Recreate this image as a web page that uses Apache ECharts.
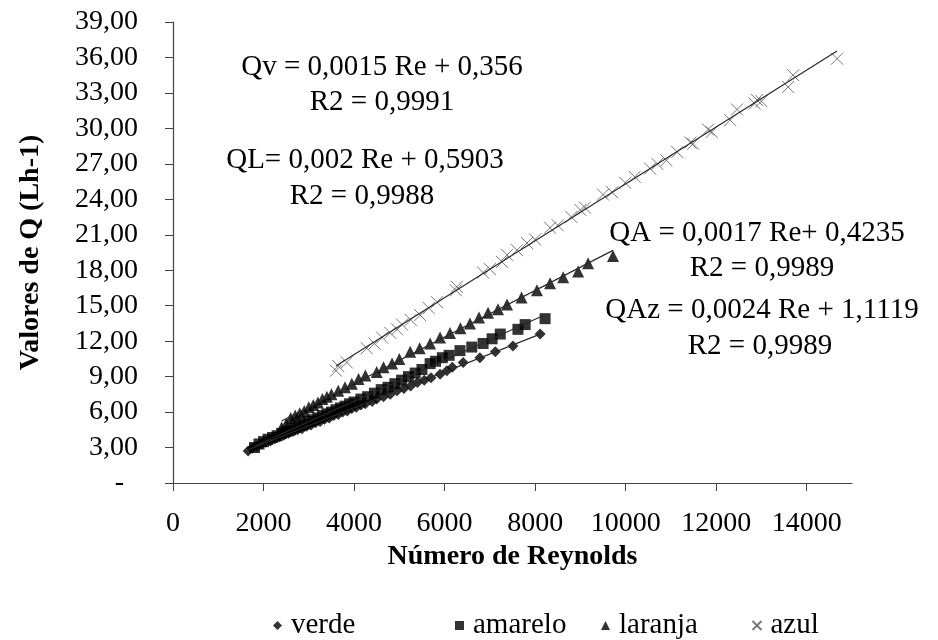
<!DOCTYPE html>
<html>
<head>
<meta charset="utf-8">
<script src="https://cdn.jsdelivr.net/npm/echarts@6/dist/echarts.min.js"></script>
<style>
  html, body { margin: 0; padding: 0; background: #fff; }
  #chart { width: 938px; height: 640px; }
</style>
</head>
<body>
<div id="chart"></div>
<script>
// valores: [Re, Q]
var verde = [
  [1660, 2.7], [1750, 2.95], [1850, 3.1], [1950, 3.3], [2050, 3.45], [2150, 3.55],
  [2250, 3.75], [2350, 3.9], [2450, 4.05], [2550, 4.2], [2650, 4.35], [2750, 4.5],
  [2850, 4.6], [2950, 4.8], [3050, 4.9], [3150, 5.1], [3250, 5.2], [3350, 5.4],
  [3450, 5.5], [3550, 5.7], [3650, 5.8], [3750, 6.0], [3850, 6.1], [3950, 6.3],
  [4050, 6.4], [4150, 6.6], [4250, 6.7], [4400, 6.9], [4500, 7.1], [4650, 7.3],
  [4800, 7.5], [4950, 7.8], [5100, 8.0], [5250, 8.2], [5400, 8.5], [5550, 8.7],
  [5700, 8.9], [5900, 9.2], [6050, 9.5], [6170, 9.8], [6410, 10.2], [6780, 10.6],
  [7120, 11.1], [7510, 11.6], [8110, 12.6]
];
var amarelo = [
  [1800, 3.0], [1900, 3.3], [2000, 3.5], [2100, 3.7], [2200, 3.85], [2300, 4.0],
  [2400, 4.2], [2500, 4.35], [2600, 4.5], [2700, 4.7], [2800, 4.85], [2900, 5.0],
  [3000, 5.2], [3100, 5.35], [3200, 5.5], [3300, 5.7], [3400, 5.85], [3500, 6.0],
  [3600, 6.2], [3700, 6.35], [3800, 6.5], [3900, 6.7], [4000, 6.85], [4150, 7.1],
  [4300, 7.3], [4450, 7.6], [4600, 7.9], [4750, 8.1], [4900, 8.4], [5050, 8.7],
  [5200, 9.0], [5350, 9.3], [5500, 9.6], [5680, 10.1], [5800, 10.3], [5950, 10.6],
  [6100, 10.8], [6340, 11.2], [6600, 11.5], [6850, 11.8], [7050, 12.2], [7230, 12.6],
  [7620, 13.0], [7780, 13.4], [8220, 13.9]
];
var laranja = [
  [2400, 4.7], [2500, 5.0], [2600, 5.5], [2700, 5.7], [2800, 5.9], [2900, 6.1],
  [3000, 6.4], [3100, 6.6], [3200, 6.8], [3300, 7.1], [3400, 7.3], [3500, 7.5],
  [3650, 7.8], [3800, 8.1], [3950, 8.4], [4100, 8.8], [4250, 9.1], [4500, 9.4],
  [4650, 9.8], [4840, 10.1], [5000, 10.5], [5240, 11.1], [5450, 11.4], [5680, 11.8],
  [5900, 12.3], [6120, 12.7], [6350, 13.1], [6560, 13.5], [6760, 14.0], [6960, 14.4],
  [7180, 14.7], [7380, 15.1], [7700, 15.7], [8040, 16.3], [8330, 16.9], [8620, 17.4],
  [8950, 17.9], [9170, 18.6], [9720, 19.2]
];
var azul = [
  [3600, 9.5], [3650, 9.9], [3840, 10.2], [4280, 11.4], [4450, 11.8], [4620, 12.3],
  [4800, 12.7], [4950, 13.0], [5060, 13.4], [5250, 13.8], [5460, 14.2], [5650, 14.8],
  [5830, 15.3], [6250, 16.3], [6270, 16.6], [6850, 17.8], [7000, 18.1], [7270, 18.7],
  [7380, 19.3], [7600, 19.7], [7820, 20.3], [8000, 20.6], [8330, 21.6], [8500, 21.8],
  [8800, 22.5], [9000, 23.1], [9100, 23.3], [9500, 24.4], [9700, 24.6], [9990, 25.4],
  [10200, 25.9], [10540, 26.6], [10700, 27.0], [10900, 27.3], [11140, 28.0], [11430, 28.8],
  [11490, 28.7], [11820, 29.9], [11900, 29.7], [12310, 30.7], [12460, 31.6], [12850, 32.1],
  [12900, 32.4], [13000, 32.3], [13590, 33.5], [13700, 34.5], [14670, 35.9]
];

var xTicks = [0, 2000, 4000, 6000, 8000, 10000, 12000, 14000];

var equacoes = [
  'Qv = 0,0015 Re + 0,356', 'R2 = 0,9991',
  'QL= 0,002 Re + 0,5903', 'R2 = 0,9988',
  'QA = 0,0017 Re+ 0,4235', 'R2 = 0,9989',
  'QAz = 0,0024 Re + 1,1119', 'R2 = 0,9989'
];

var FONT = '"Liberation Serif", "Times New Roman", serif';

// linha de tendencia por minimos quadrados, do menor ao maior Re
function tendencia(pts) {
  var n = pts.length, sx = 0, sy = 0, sxx = 0, sxy = 0;
  var xmin = Infinity, xmax = -Infinity;
  pts.forEach(function (p) {
    sx += p[0]; sy += p[1]; sxx += p[0] * p[0]; sxy += p[0] * p[1];
    if (p[0] < xmin) xmin = p[0];
    if (p[0] > xmax) xmax = p[0];
  });
  var b = (n * sxy - sx * sy) / (n * sxx - sx * sx);
  var a = (sy - b * sx) / n;
  return [[xmin, a + b * xmin], [xmax, a + b * xmax]];
}

var diamond = 'path://M5,0L10,5L5,10L0,5Z';
var cross = 'path://M0,0L10,10M10,0L0,10';

function trend(pts) {
  return {
    type: 'line', data: tendencia(pts), symbol: 'none', silent: true, z: 5,
    lineStyle: { color: '#2a2a2a', width: 1.2 }
  };
}

function legenda(nome, left) {
  return {
    data: [nome], left: left, top: 606, itemWidth: 9, itemHeight: 9, itemGap: 0,
    textStyle: { fontFamily: FONT, fontSize: 29, color: '#000', padding: [0, 0, 0, 4] },
    selectedMode: false
  };
}

var annotPos = [
  [382, 67], [382, 102], [365, 160], [362, 196],
  [757, 233], [762, 268], [762, 310], [760, 346]
];

var chart = echarts.init(document.getElementById('chart'));

chart.setOption({
  backgroundColor: '#fff',
  animation: false,
  textStyle: { fontFamily: FONT },
  grid: { left: 173, right: 86, top: 22, bottom: 157 },
  legend: [
    legenda('verde', 268),
    legenda('amarelo', 450),
    legenda('laranja', 596),
    legenda('azul', 745)
  ],
  xAxis: {
    type: 'value', min: 0, max: 15000, interval: 2000,
    name: 'Número de Reynolds', nameLocation: 'middle', nameGap: 51,
    nameTextStyle: { fontFamily: FONT, fontSize: 28, fontWeight: 'bold', color: '#000' },
    splitLine: { show: false },
    axisLine: { lineStyle: { color: '#444', width: 1.2 } },
    axisTick: { length: 8, customValues: xTicks, lineStyle: { color: '#444' } },
    axisLabel: {
      customValues: xTicks, margin: 27, fontSize: 28, color: '#000', fontFamily: FONT,
      formatter: function (v) { return String(v); }
    }
  },
  yAxis: {
    type: 'value', min: 0, max: 39, interval: 3,
    name: 'Valores de Q (Lh-1)', nameLocation: 'middle', nameGap: 128,
    nameTextStyle: { fontFamily: FONT, fontSize: 28, fontWeight: 'bold', color: '#000' },
    splitLine: { show: false },
    axisLine: { show: true, lineStyle: { color: '#444', width: 1.2 } },
    axisTick: { show: true, length: 8, lineStyle: { color: '#444' } },
    axisLabel: {
      margin: 35, fontSize: 28, color: '#000', fontFamily: FONT,
      formatter: function (v) { return v === 0 ? '-  ' : v.toFixed(2).replace('.', ','); }
    }
  },
  series: [
    { name: 'verde', type: 'scatter', data: verde, symbol: diamond, symbolSize: 11,
      itemStyle: { color: '#000' } },
    { name: 'amarelo', type: 'scatter', data: amarelo, symbol: 'rect', symbolSize: 11,
      itemStyle: { color: '#000' } },
    { name: 'laranja', type: 'scatter', data: laranja, symbol: 'triangle', symbolSize: 12,
      itemStyle: { color: '#000' } },
    { name: 'azul', type: 'scatter', data: azul, symbol: cross, symbolSize: 12,
      itemStyle: { color: 'none', borderColor: '#555', borderWidth: 1 } },
    trend(verde), trend(amarelo), trend(laranja), trend(azul)
  ],
  graphic: equacoes.map(function (t, i) {
    return {
      type: 'text', x: annotPos[i][0], y: annotPos[i][1], silent: true,
      style: { text: t, fill: '#000', font: '29px ' + FONT, textAlign: 'center', textVerticalAlign: 'middle' }
    };
  })
});
</script>
</body>
</html>
